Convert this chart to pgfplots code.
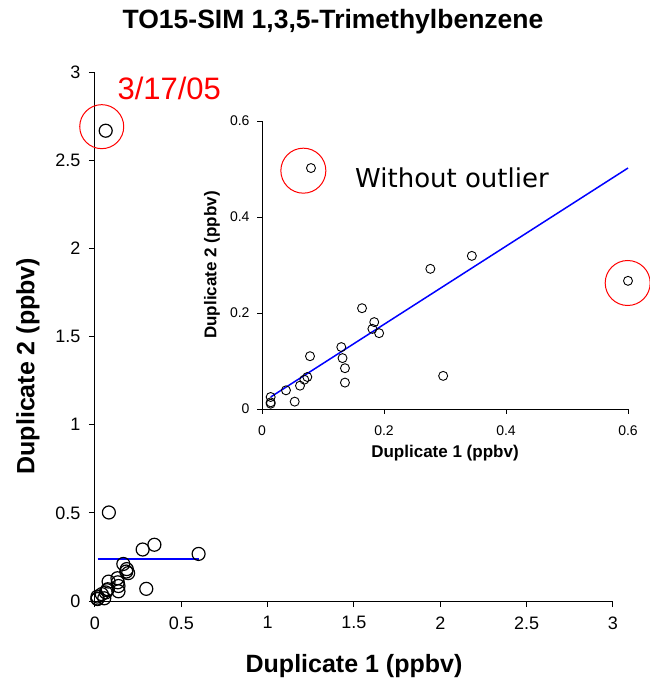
\documentclass[border=0pt]{standalone}
\usepackage{pgfplots}
\pgfplotsset{compat=1.18}
\usepackage{pgfplotstable}
\usepackage{fontspec}
\setmainfont{Liberation Sans}
\newfontfamily\dejavu{DejaVu Sans}

\pgfplotstableread{
x y
0.0803 0.502
0.600 0.267
0.344 0.319
0.276 0.292
0.297 0.069
0.164 0.210
0.184 0.181
0.181 0.167
0.192 0.158
0.130 0.129
0.132 0.106
0.136 0.085
0.136 0.055
0.0787 0.110
0.0743 0.0667
0.0694 0.0611
0.0623 0.0486
0.0393 0.0389
0.0536 0.0153
0.0142 0.025
0.0142 0.0139
0.0142 0.011
}\insetdata

\pgfplotstableread{
x y
0.062 2.667
0.0803 0.502
0.600 0.267
0.344 0.319
0.276 0.292
0.297 0.069
0.164 0.210
0.184 0.181
0.181 0.167
0.192 0.158
0.130 0.129
0.132 0.106
0.136 0.085
0.136 0.055
0.0787 0.110
0.0743 0.0667
0.0694 0.0611
0.0623 0.0486
0.0393 0.0389
0.0536 0.0153
0.0142 0.025
0.0142 0.0139
0.0142 0.011
}\maindata

\begin{document}
\begin{tikzpicture}
\path[use as bounding box] (0,0) rectangle (649pt,681pt);

\node[font=\bfseries\fontsize{26.5}{29}\selectfont] at (333pt,659pt) {TO15-SIM 1,3,5-Trimethylbenzene};

% main axis
\begin{axis}[
  at={(95pt,80pt)}, anchor=south west,
  scale only axis, width=518pt, height=529pt,
  xmin=0, xmax=3, ymin=0, ymax=3,
  axis x line*=bottom, axis y line*=left,
  axis line style={-, line width=1pt},
  tick align=outside, major tick length=6pt,
  every tick/.style={line width=1pt, black},
  xtick={0,0.5,1,1.5,2,2.5,3},
  ytick={0,0.5,1,1.5,2,2.5,3},
  tick label style={font=\fontsize{18}{20}\selectfont},
  /pgf/number format/assume math mode=true,
  xticklabel style={yshift=-6pt},
  yticklabel style={xshift=-5pt},
  xlabel={Duplicate 1 (ppbv)},
  ylabel={Duplicate 2 (ppbv)},
  label style={font=\bfseries\fontsize{25}{28}\selectfont},
  xlabel style={at={(axis description cs:0.5,0)}, anchor=center, yshift=-65pt},
  ylabel style={at={(axis description cs:0,0.444)}, anchor=center, yshift=67pt},
  clip=false,
]
\addplot[blue, line width=2.6pt] coordinates {(0.015,0.238) (0.6,0.238)};
\addplot[only marks, mark=o, mark size=6.5pt, mark options={line width=1.2pt, black}] table[x=x,y=y] {\maindata};
\addplot[only marks, mark=o, mark size=22pt, mark options={line width=1pt, red}] coordinates {(0.039,2.69)};
\end{axis}

\node[anchor=west, red, font=\fontsize{31}{34}\selectfont] at (114pt,593pt) {3/17/05};

% inset axis
\begin{axis}[
  at={(262pt,272pt)}, anchor=south west,
  scale only axis, width=366pt, height=288pt,
  xmin=0, xmax=0.6, ymin=0, ymax=0.6,
  axis x line*=bottom, axis y line*=left,
  axis line style={-, line width=0.8pt},
  tick align=outside, major tick length=5pt,
  every tick/.style={line width=0.8pt, black},
  xtick={0,0.2,0.4,0.6},
  ytick={0,0.2,0.4,0.6},
  tick label style={font=\fontsize{14}{16}\selectfont},
  /pgf/number format/assume math mode=true,
  xticklabel style={yshift=-8pt},
  yticklabel style={xshift=-4pt},
  xlabel={Duplicate 1 (ppbv)},
  ylabel={Duplicate 2 (ppbv)},
  label style={font=\bfseries\fontsize{17}{19}\selectfont},
  xlabel style={at={(axis description cs:0.5,0)}, anchor=center, yshift=-44pt},
  ylabel style={at={(axis description cs:0,0.5)}, anchor=center, yshift=50pt},
  clip=false,
]
\addplot[blue, line width=1.5pt] coordinates {(0.0142,0.025) (0.6,0.502)};
\addplot[only marks, mark=o, mark size=4.5pt, mark options={line width=0.9pt, black}] table[x=x,y=y] {\insetdata};
\addplot[only marks, mark=o, mark size=22.5pt, mark options={line width=1pt, red}] coordinates {(0.0678,0.4965) (0.5995,0.2625)};
\end{axis}

\node[font=\dejavu\fontsize{26}{29}\selectfont] at (452pt,503pt) {Without outlier};
\end{tikzpicture}
\end{document}
